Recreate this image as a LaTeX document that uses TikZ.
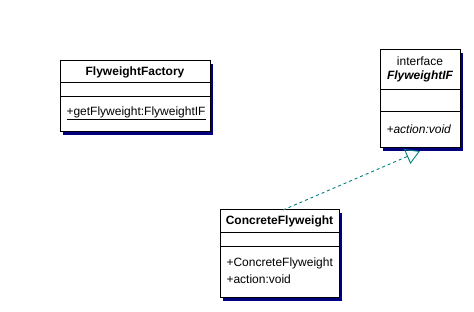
\documentclass[tikz,border=0pt]{standalone}
\usepackage{fontspec}
\setmainfont{Liberation Sans}
\usetikzlibrary{arrows.meta}
\definecolor{shadownavy}{RGB}{0,0,128}
\definecolor{realizeteal}{RGB}{0,128,128}
\begin{document}
\begin{tikzpicture}[x=1pt,y=-1pt,line width=1pt,
  shadow/.style={fill=shadownavy,draw=none},
  classname/.style={font=\fontsize{12}{14}\selectfont\bfseries,inner sep=0pt},
  member/.style={font=\fontsize{12}{14}\selectfont,anchor=west,inner sep=0pt},
  realize/.style={draw=realizeteal,line width=0.9pt,dash pattern=on 3pt off 3pt,
    -{Triangle[open,length=14pt,width=16pt]}}]
\useasboundingbox (0,0) rectangle (474,312);

% FlyweightFactory
\fill[shadow] (63,64) rectangle (213,135);
\draw[fill=white] (60,61) rectangle (210,132);
\draw (60,83) -- (210,83);
\draw (60,97) -- (210,97);
\node[classname] (factory) at (135,72) {FlyweightFactory};
\node[member] (getfw) at (66,113) {\underline{+getFlyweight:FlyweightIF}};

% interface FlyweightIF
\fill[shadow] (383,53) rectangle (463,151);
\draw[fill=white] (380,50) rectangle (460,148);
\draw (380,90) -- (460,90);
\draw (380,112) -- (460,112);
\node[member,anchor=center] (stereo) at (420,61) {interface};
\node[classname,font=\fontsize{12}{14}\selectfont\bfseries\itshape] (flyif) at (420,76) {FlyweightIF};
\node[member,font=\fontsize{12}{14}\selectfont\itshape] (ifaction) at (386,129) {+action:void};
\coordinate (ifbottom) at (420,151);

% ConcreteFlyweight
\fill[shadow] (223,213) rectangle (342,301);
\draw[fill=white] (220,210) rectangle (339,298);
\draw (220,233) -- (339,233);
\draw (220,247) -- (339,247);
\node[classname] (concrete) at (279.5,221) {ConcreteFlyweight};
\node[member] (ctor) at (226,263) {+ConcreteFlyweight};
\node[member] (action) at (226,279) {+action:void};
\coordinate (concretetop) at (283,210);

% realization
\draw[realize] (concretetop) -- (ifbottom);

\end{tikzpicture}
\end{document}
